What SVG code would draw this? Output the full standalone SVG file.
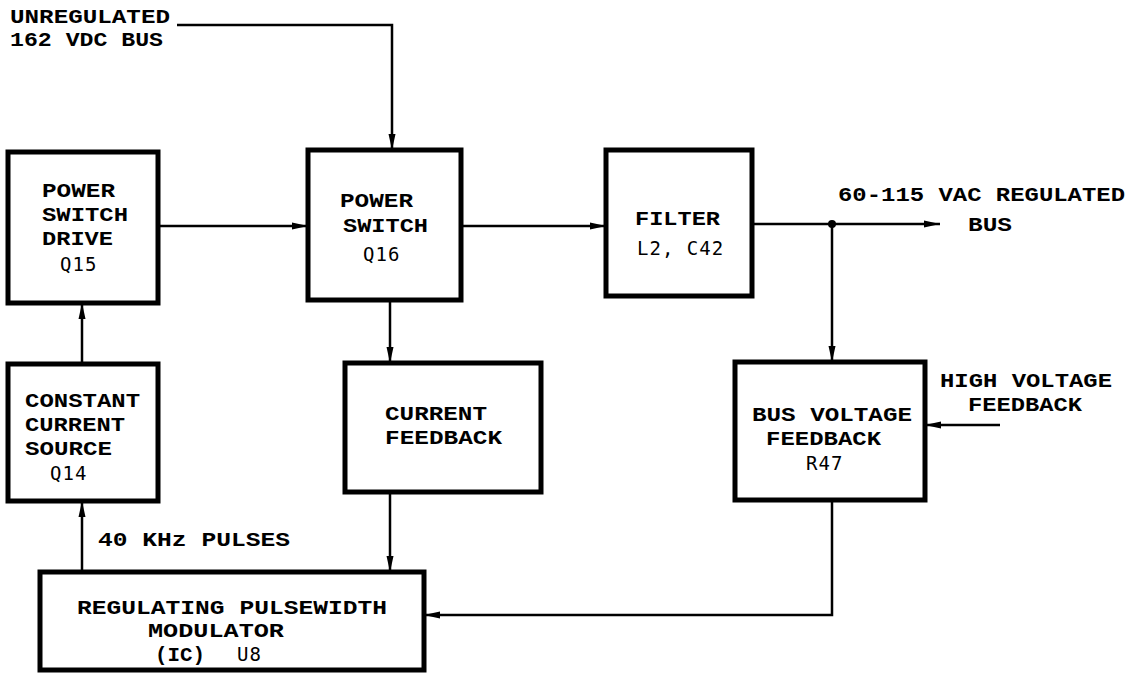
<svg xmlns="http://www.w3.org/2000/svg" width="1139" height="673" viewBox="0 0 1139 673">
<style>
.box{fill:#fff;stroke:#000;stroke-width:5}
.ln{fill:none;stroke:#000;stroke-width:2.5}
.b{font-family:"Liberation Mono",monospace;font-weight:bold;font-size:20px;fill:#000}
.l{font-family:"DejaVu Sans Mono","Liberation Mono",monospace;font-size:19px;fill:#000;letter-spacing:1px}
</style>
<defs>
<marker id="ah" markerUnits="userSpaceOnUse" markerWidth="16" markerHeight="8" refX="16" refY="4" orient="auto">
<path d="M0,0.5 L16,4 L0,7.5 z" fill="#000"/>
</marker>
</defs>
<rect width="1139" height="673" fill="#fff"/>
<g id="connectors">
<path class="ln" d="M177,25 H392 V150" marker-end="url(#ah)"/>
<path class="ln" d="M158,226 H308" marker-end="url(#ah)"/>
<path class="ln" d="M461,226 H606" marker-end="url(#ah)"/>
<path class="ln" d="M752,224 H940" marker-end="url(#ah)"/>
<circle cx="832" cy="224" r="4" fill="#000"/>
<path class="ln" d="M832,224 V362" marker-end="url(#ah)"/>
<path class="ln" d="M1000,425 H925" marker-end="url(#ah)"/>
<path class="ln" d="M832,500 V615 H424" marker-end="url(#ah)"/>
<path class="ln" d="M390,300 V363" marker-end="url(#ah)"/>
<path class="ln" d="M390,492 V572" marker-end="url(#ah)"/>
<path class="ln" d="M82,364 V303" marker-end="url(#ah)"/>
<path class="ln" d="M82,572 V501" marker-end="url(#ah)"/>
</g>
<g id="labels">
<text class="b" x="10" y="23" textLength="160" lengthAdjust="spacingAndGlyphs">UNREGULATED</text>
<text class="b" x="10" y="46" textLength="153" lengthAdjust="spacingAndGlyphs">162 VDC BUS</text>
<text class="b" x="838" y="201" textLength="287" lengthAdjust="spacingAndGlyphs">60-115 VAC REGULATED</text>
<text class="b" x="968" y="231" textLength="44" lengthAdjust="spacingAndGlyphs">BUS</text>
<text class="b" x="940" y="387" textLength="172" lengthAdjust="spacingAndGlyphs">HIGH VOLTAGE</text>
<text class="b" x="968" y="411" textLength="114" lengthAdjust="spacingAndGlyphs">FEEDBACK</text>
<text class="b" x="98" y="546" textLength="192" lengthAdjust="spacingAndGlyphs">40 KHz PULSES</text>
</g>
<g id="power-switch-drive">
<rect class="box" x="8" y="152" width="150" height="151"/>
<text class="b" x="42" y="197" textLength="73" lengthAdjust="spacingAndGlyphs">POWER</text>
<text class="b" x="42" y="221" textLength="86" lengthAdjust="spacingAndGlyphs">SWITCH</text>
<text class="b" x="42" y="245" textLength="71" lengthAdjust="spacingAndGlyphs">DRIVE</text>
<text class="l" x="60" y="271">Q15</text>
</g>
<g id="power-switch">
<rect class="box" x="308" y="150" width="153" height="150"/>
<text class="b" x="340" y="207" textLength="73" lengthAdjust="spacingAndGlyphs">POWER</text>
<text class="b" x="343" y="232" textLength="85" lengthAdjust="spacingAndGlyphs">SWITCH</text>
<text class="l" x="363" y="261">Q16</text>
</g>
<g id="filter">
<rect class="box" x="606" y="150" width="146" height="146"/>
<text class="b" x="635" y="225" textLength="85" lengthAdjust="spacingAndGlyphs">FILTER</text>
<text class="l" x="637" y="255">L2, C42</text>
</g>
<g id="bus-voltage-feedback">
<rect class="box" x="735" y="362" width="190" height="138"/>
<text class="b" x="752" y="421" textLength="160" lengthAdjust="spacingAndGlyphs">BUS VOLTAGE</text>
<text class="b" x="766" y="445" textLength="115" lengthAdjust="spacingAndGlyphs">FEEDBACK</text>
<text class="l" x="806" y="470">R47</text>
</g>
<g id="constant-current-source">
<rect class="box" x="8" y="364" width="150" height="137"/>
<text class="b" x="25" y="407" textLength="115" lengthAdjust="spacingAndGlyphs">CONSTANT</text>
<text class="b" x="25" y="431" textLength="100" lengthAdjust="spacingAndGlyphs">CURRENT</text>
<text class="b" x="25" y="455" textLength="87" lengthAdjust="spacingAndGlyphs">SOURCE</text>
<text class="l" x="50" y="480">Q14</text>
</g>
<g id="current-feedback">
<rect class="box" x="345" y="363" width="196" height="129"/>
<text class="b" x="385" y="420" textLength="102" lengthAdjust="spacingAndGlyphs">CURRENT</text>
<text class="b" x="385" y="444" textLength="117" lengthAdjust="spacingAndGlyphs">FEEDBACK</text>
</g>
<g id="pwm">
<rect class="box" x="40" y="572" width="384" height="98"/>
<text class="b" x="77" y="614" textLength="310" lengthAdjust="spacingAndGlyphs">REGULATING PULSEWIDTH</text>
<text class="b" x="148" y="637" textLength="136" lengthAdjust="spacingAndGlyphs">MODULATOR</text>
<text class="b" x="155" y="661" textLength="50" lengthAdjust="spacingAndGlyphs">(IC)</text>
<text class="l" x="237" y="661">U8</text>
</g>
</svg>
